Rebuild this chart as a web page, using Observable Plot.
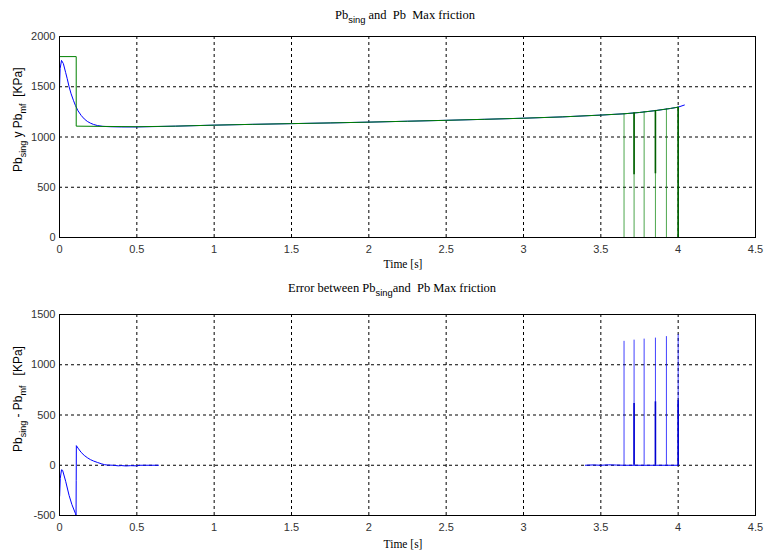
<!DOCTYPE html>
<html>
<head>
<meta charset="utf-8">
<script src="https://cdn.jsdelivr.net/npm/d3@7"></script>
<script src="https://cdn.jsdelivr.net/npm/@observablehq/plot@0.6"></script>
<style>
  body { margin: 0; background: #fff; }
  #fig { position: relative; width: 764px; height: 550px; background: #fff; }
  #fig svg { display: block; }
</style>
</head>
<body>
<div id="fig"></div>
<script>
// Pb_sing: simulated brake pressure [KPa] over time [s]
const singT = [0, 0.001, 0.004, 0.013, 0.025, 0.04, 0.05, 0.062, 0.075, 0.09, 0.103, 0.12, 0.14, 0.16, 0.18, 0.2, 0.22, 0.245, 0.28, 0.33, 0.4, 0.5, 0.75, 1.0, 1.25, 1.5, 1.75, 2.0, 2.25, 2.5, 2.75, 3.0, 3.25, 3.5, 3.65, 3.75, 3.85, 3.95, 4.0, 4.04];
const singV = [1500, 1520, 1680, 1762, 1730, 1640, 1580, 1500, 1430, 1365, 1313, 1260, 1215, 1180, 1155, 1138, 1125, 1114, 1106, 1102, 1100, 1100, 1108, 1118, 1126, 1133, 1140, 1148, 1157, 1166, 1176, 1187, 1200, 1218, 1231, 1244, 1262, 1284, 1297, 1318];

// Pb_mf: max-friction pressure [KPa]
const mfT = [0, 0, 0.108, 0.108, 0.5, 0.75, 1.0, 1.25, 1.5, 1.75, 2.0, 2.25, 2.5, 2.75, 3.0, 3.25, 3.5, 3.65, 3.75, 3.85, 3.95, 4.0];
const mfV = [0, 1800, 1800, 1108, 1102, 1108, 1118, 1126, 1133, 1140, 1148, 1157, 1166, 1176, 1187, 1200, 1218, 1231, 1244, 1262, 1284, 1297];

// Pb_mf drops to zero at these instants
const dropT = [3.65, 3.715, 3.78, 3.853, 3.924, 4.0];
const dropTop = [1231, 1240, 1252, 1264, 1280, 1297];
// partial drops (overlapping samples)
const partT = [3.715, 3.853, 4.0];
const partTop = [1240, 1264, 1297];
const partLow = [624, 634, 0];

// Error Pb_sing - Pb_mf [KPa]; null marks the stretch with no samples
const errT = [0, 0, 0.001, 0.005, 0.013, 0.02, 0.04, 0.062, 0.08, 0.103, 0.107, 0.108, 0.109, 0.12, 0.14, 0.16, 0.18, 0.2, 0.22, 0.245, 0.27, 0.29, 0.31, 0.35, 0.38, 0.4, 0.43, 0.46, 0.5, 0.52, 0.64, 0.65, 3.4, 3.45, 3.5, 3.55, 3.6, 3.65, 4.0];
const errV = [-430, -310, -310, -130, -45, -50, -160, -300, -390, -480, -500, -150, 195, 170, 128, 98, 75, 56, 42, 28, 15, 6, 2, 0, -6, -3, -7, -4, -6, 0, 0, null, 0, 3, 0, 4, 2, 0, 0];

// error spikes when Pb_mf drops
const errSpikeT = [3.65, 3.715, 3.78, 3.853, 3.924, 4.0];
const errSpikeV = [1233, 1245, 1255, 1265, 1280, 1300];
const errPartT = [3.715, 3.853, 4.0];
const errPartV = [615, 631, 641];

// axis ticks
const xTicks = [0, 0.5, 1, 1.5, 2, 2.5, 3, 3.5, 4, 4.5];
const yTicksTop = [0, 500, 1000, 1500, 2000];
const yTicksBottom = [-500, 0, 500, 1000, 1500];

const sing = d3.zip(singT, singV).map(([t, v]) => ({t, v}));
const mf = d3.zip(mfT, mfV).map(([t, v]) => ({t, v}));
const drops = d3.zip(dropT, dropTop).map(([t, v]) => ({t, v}));
const parts = d3.zip(partT, partTop, partLow).map(([t, v, lo]) => ({t, v, lo}));
const err = d3.zip(errT, errV).map(([t, v]) => ({t, v: v ?? NaN}));
const errSpikes = d3.zip(errSpikeT, errSpikeV).map(([t, v]) => ({t, v}));
const errParts = d3.zip(errPartT, errPartV).map(([t, v]) => ({t, v}));

const BLUE = "#0000ff", GREEN = "#008000";
const dash = "3,3";

function panel({yDomain, yTicks, marks, marginTop, marginBottom}) {
  const inner = yTicks.slice(1, -1);
  return Plot.plot({
    width: 764,
    height: 275,
    marginLeft: 59,
    marginRight: 9,
    marginTop,
    marginBottom,
    style: {fontFamily: "'Liberation Sans', Arial, sans-serif", fontSize: "11px", color: "#333", background: "#fff", overflow: "visible"},
    x: {domain: [0, 4.5], ticks: xTicks, tickFormat: d => String(d)},
    y: {domain: yDomain, ticks: yTicks, tickFormat: d => String(d)},
    marks: [
      Plot.ruleX(xTicks.slice(1, -1), {stroke: "#000", strokeDasharray: dash, strokeWidth: 1}),
      Plot.ruleY(inner, {stroke: "#000", strokeDasharray: dash, strokeWidth: 1}),
      ...marks,
      Plot.frame({stroke: "#000", strokeWidth: 1}),
      Plot.axisX({ticks: xTicks, tickSize: 0, tickPadding: 8, label: null, tickFormat: d => String(d)}),
      Plot.axisY({ticks: yTicks, tickSize: 0, tickPadding: 4, label: null, tickFormat: d => String(d)})
    ]
  });
}

const topPanel = panel({
  yDomain: [0, 2000], yTicks: yTicksTop, marginTop: 36, marginBottom: 38,
  marks: [
    Plot.line(sing, {x: "t", y: "v", stroke: BLUE, strokeWidth: 1}),
    Plot.line(mf, {x: "t", y: "v", stroke: GREEN, strokeWidth: 1}),
    Plot.ruleX(drops, {x: "t", y1: 0, y2: "v", stroke: GREEN, strokeWidth: 1, strokeOpacity: 0.7}),
    Plot.ruleX(parts, {x: "t", y1: "lo", y2: "v", stroke: "#006000", strokeWidth: 1.6})
  ]
});

const bottomPanel = panel({
  yDomain: [-500, 1500], yTicks: yTicksBottom, marginTop: 39, marginBottom: 35,
  marks: [
    Plot.line(err, {x: "t", y: "v", stroke: BLUE, strokeWidth: 1, clip: true}),
    Plot.ruleX(errSpikes, {x: "t", y1: 0, y2: "v", stroke: BLUE, strokeWidth: 1, strokeOpacity: 0.75}),
    Plot.ruleX(errParts, {x: "t", y1: 0, y2: "v", stroke: "#0000d0", strokeWidth: 1.6})
  ]
});

const fig = document.getElementById("fig");
fig.append(topPanel, bottomPanel);

// rich text with subscripts: parts = [[text, isSub], ...]
function rich(svg, {x, y, rotate = 0, anchor = "start", family, size, parts}) {
  const t = d3.select(svg).append("text")
    .attr("transform", `translate(${x},${y}) rotate(${rotate})`)
    .attr("text-anchor", anchor)
    .attr("fill", "#000")
    .style("white-space", "pre")
    .attr("font-family", family)
    .attr("font-size", size);
  let shifted = false;
  for (const [s, sub] of parts) {
    const sp = t.append("tspan").text(s);
    if (sub) {
      sp.attr("dy", shifted ? 0 : size * 0.35).attr("font-size", size * 0.75)
        .attr("font-family", "'Liberation Sans', Arial, sans-serif");
      shifted = true;
    } else if (shifted) {
      sp.attr("dy", -size * 0.35);
      shifted = false;
    }
  }
}

const SERIF = "'Liberation Serif', 'Times New Roman', serif";
const SANS = "'Liberation Sans', Arial, sans-serif";

rich(topPanel, {x: 335, y: 19, family: SERIF, size: 12.5,
  parts: [["Pb"], ["sing", true], [" and  Pb  Max friction"]]});
rich(topPanel, {x: 403, y: 268, anchor: "middle", family: SERIF, size: 11.5,
  parts: [["Time [s]"]]});
rich(topPanel, {x: 22, y: 172, rotate: -90, family: SANS, size: 12,
  parts: [["Pb"], ["sing", true], [" y Pb"], ["mf", true], ["  [KPa]"]]});

rich(bottomPanel, {x: 288, y: 17, family: SERIF, size: 12.5,
  parts: [["Error between Pb"], ["sing", true], ["and  Pb Max friction"]]});
rich(bottomPanel, {x: 403, y: 273, anchor: "middle", family: SERIF, size: 11.5,
  parts: [["Time [s]"]]});
rich(bottomPanel, {x: 22, y: 177, rotate: -90, family: SANS, size: 12,
  parts: [["Pb"], ["sing", true], [" - Pb"], ["mf", true], ["   [KPa]"]]});
</script>
</body>
</html>
